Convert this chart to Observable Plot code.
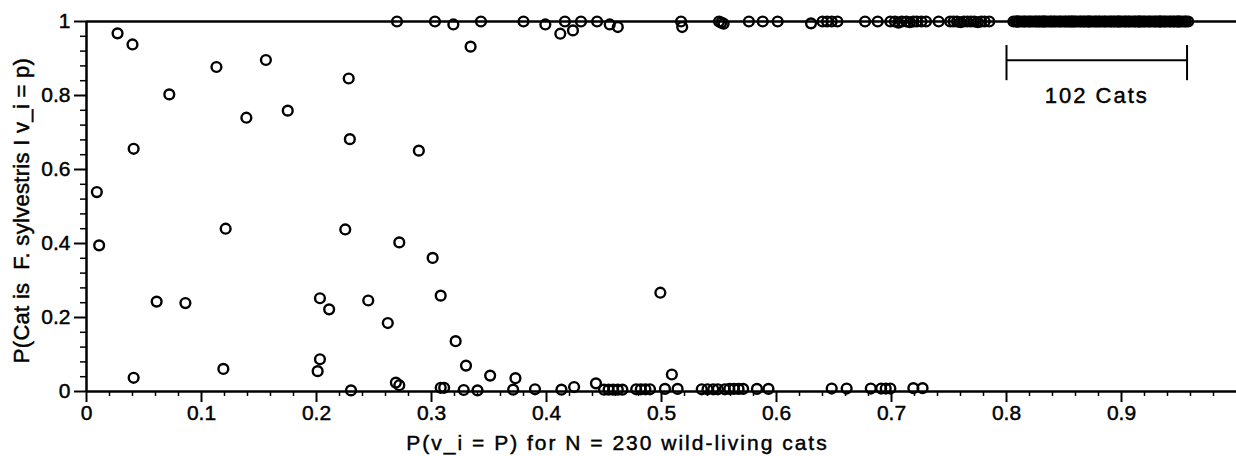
<!DOCTYPE html>
<html>
<head>
<meta charset="utf-8">
<script src="https://cdn.jsdelivr.net/npm/d3@7"></script>
<script src="https://cdn.jsdelivr.net/npm/@observablehq/plot@0.6"></script>
<style>
  html, body { margin: 0; padding: 0; background: white; }
  #chart svg text { stroke: black; stroke-width: 0.45px; }
</style>
</head>
<body>
<div id="chart"></div>
<script>
// ---- Data ----
// Cats scattered between the two extremes
const midX = [0.009, 0.011, 0.027, 0.040, 0.041, 0.041, 0.061, 0.072, 0.086, 0.113,
              0.119, 0.121, 0.139, 0.156, 0.175, 0.201, 0.203, 0.203, 0.211, 0.225,
              0.228, 0.229, 0.245, 0.262, 0.272, 0.289, 0.301, 0.308, 0.321, 0.330,
              0.351, 0.373, 0.499, 0.509];
const midY = [0.539, 0.395, 0.968, 0.938, 0.656, 0.037, 0.243, 0.803, 0.239, 0.877,
              0.061, 0.440, 0.740, 0.896, 0.759, 0.055, 0.087, 0.252, 0.222, 0.438,
              0.846, 0.682, 0.246, 0.185, 0.403, 0.651, 0.361, 0.259, 0.136, 0.070,
              0.043, 0.036, 0.267, 0.046];

// Cats near P = 0
const lowX = [0.230, 0.269, 0.272, 0.308, 0.311, 0.328, 0.340, 0.371, 0.390, 0.413,
              0.424, 0.443, 0.450, 0.454, 0.458, 0.462, 0.466, 0.478, 0.482, 0.486,
              0.490, 0.503, 0.514, 0.535, 0.540, 0.545, 0.549, 0.555, 0.559, 0.563,
              0.567, 0.571, 0.583, 0.593, 0.648, 0.661, 0.682, 0.691, 0.695, 0.699,
              0.719, 0.727];
const lowY = [0.003, 0.024, 0.017, 0.010, 0.010, 0.004, 0.003, 0.005, 0.006, 0.005,
              0.012, 0.022, 0.005, 0.005, 0.005, 0.005, 0.005, 0.006, 0.006, 0.006,
              0.006, 0.007, 0.007, 0.006, 0.006, 0.006, 0.006, 0.006, 0.007, 0.007,
              0.007, 0.007, 0.007, 0.007, 0.008, 0.008, 0.008, 0.008, 0.008, 0.008,
              0.009, 0.009];

// Cats near P = 1 (below 0.8)
const highX = [0.270, 0.303, 0.319, 0.334, 0.343, 0.380, 0.399, 0.412, 0.416, 0.423,
               0.430, 0.444, 0.455, 0.462, 0.517, 0.518, 0.550, 0.552, 0.554, 0.576,
               0.588, 0.601, 0.630, 0.640, 0.644, 0.648, 0.653, 0.677, 0.688,
               0.699, 0.703, 0.706, 0.709, 0.713, 0.716, 0.719, 0.722, 0.726, 0.730,
               0.741,
               0.751, 0.754, 0.757, 0.760, 0.763, 0.766, 0.769, 0.772, 0.775, 0.778,
               0.781, 0.785];
const highY = [1.000, 1.000, 0.992, 0.932, 1.000, 1.000, 0.992, 0.967, 1.000, 0.976,
               1.000, 1.000, 0.992, 0.985, 1.000, 0.985, 1.000, 0.997, 0.994, 1.000,
               1.000, 1.000, 0.995, 1.000, 1.000, 1.000, 1.000, 1.000, 1.000,
               1.000, 1.000, 0.997, 1.000, 1.000, 0.998, 1.000, 1.000, 1.000, 1.000,
               1.000,
               1.000, 1.000, 1.000, 0.998, 1.000, 1.000, 1.000, 1.000, 0.998, 1.000,
               1.000, 1.000];

// The 102 cats between 0.8 and ~0.96, all at P = 1
const topX = [0.806, 0.808, 0.810, 0.811, 0.813, 0.815, 0.816, 0.818, 0.820, 0.821,
              0.823, 0.825, 0.826, 0.828, 0.829, 0.831, 0.833, 0.834, 0.836, 0.838,
              0.839, 0.841, 0.842, 0.844, 0.846, 0.847, 0.849, 0.851, 0.852, 0.854,
              0.855, 0.857, 0.859, 0.860, 0.862, 0.864, 0.865, 0.867, 0.868, 0.870,
              0.872, 0.873, 0.875, 0.877, 0.878, 0.880, 0.881, 0.883, 0.885, 0.886,
              0.888, 0.890, 0.891, 0.893, 0.894, 0.896, 0.898, 0.899, 0.901, 0.903,
              0.904, 0.906, 0.907, 0.909, 0.911, 0.912, 0.914, 0.916, 0.917, 0.919,
              0.920, 0.922, 0.924, 0.925, 0.927, 0.929, 0.930, 0.932, 0.933, 0.935,
              0.937, 0.938, 0.940, 0.942, 0.943, 0.945, 0.946, 0.948, 0.950, 0.951,
              0.953, 0.955, 0.956, 0.958, 0.809, 0.832, 0.857, 0.871, 0.897, 0.915,
              0.934, 0.949];
const topY = 1.0;

// Annotation
const bracketX = [0.8, 0.957];
const bracketY = 0.895;
const bracketEnds = [0.84, 0.935];
const bracketLabel = "102 Cats";
const bracketLabelY = 0.8;

// Axes
const xTicks = [0, 0.1, 0.2, 0.3, 0.4, 0.5, 0.6, 0.7, 0.8, 0.9];
const xTickLabels = ["0", "0.1", "0.2", "0.3", "0.4", "0.5", "0.6", "0.7", "0.8", "0.9"];
const yTicks = [0, 0.2, 0.4, 0.6, 0.8, 1];
const yTickLabels = ["0", "0.2", "0.4", "0.6", "0.8", "1"];
const xTitle = "P(v_i = P) for N = 230 wild-living cats";
const yTitle = "P(Cat is  F. sylvestris I v_i = p)";

// ---- Build ----
const points = [
  ...midX.map((x, i) => ({x, y: midY[i]})),
  ...lowX.map((x, i) => ({x, y: lowY[i]})),
  ...highX.map((x, i) => ({x, y: highY[i]})),
  ...topX.map(x => ({x, y: topY}))
];

const xMinor = d3.range(1, 50).map(i => i * 0.02).filter(v => Math.abs(v * 10 - Math.round(v * 10)) > 1e-6);
const yMinor = d3.range(1, 25).map(i => i * 0.04).filter(v => Math.abs(v * 5 - Math.round(v * 5)) > 1e-6);
const xLab = new Map(xTicks.map((t, i) => [t, xTickLabels[i]]));
const yLab = new Map(yTicks.map((t, i) => [t, yTickLabels[i]]));

const chart = Plot.plot({
  width: 1236,
  height: 456,
  marginLeft: 86,
  marginRight: 0,
  marginTop: 21,
  marginBottom: 65,
  x: {domain: [0, 1]},
  y: {domain: [0, 1]},
  style: {
    fontFamily: "'Liberation Sans', Arial, Helvetica, sans-serif",
    fontSize: "21px",
    background: "white",
    color: "black",
    overflow: "visible"
  },
  marks: [
    Plot.axisX(xMinor, {tickSize: 5, text: null, label: null, strokeWidth: 1.5}),
    Plot.axisX(xTicks, {tickSize: 11, tickPadding: 3, tickFormat: d => xLab.get(d), label: null, strokeWidth: 2, fontSize: 21}),
    Plot.axisY(yMinor, {tickSize: 6, text: null, label: null, strokeWidth: 1.5}),
    Plot.axisY(yTicks, {tickSize: 12, tickPadding: 4, tickFormat: d => yLab.get(d), label: null, strokeWidth: 2, fontSize: 21}),
    Plot.ruleY([0, 1], {x1: 0, x2: 1, strokeWidth: 2.5}),
    Plot.ruleX([0], {y1: 0, y2: 1, strokeWidth: 2.5}),
    Plot.dot(points, {x: "x", y: "y", r: 4.9, stroke: "black", strokeWidth: 2.4, fill: "none"}),
    Plot.ruleY([bracketY], {x1: bracketX[0], x2: bracketX[1], strokeWidth: 2}),
    Plot.ruleX(bracketX, {y1: bracketEnds[0], y2: bracketEnds[1], strokeWidth: 2}),
    Plot.text([bracketLabel], {x: (bracketX[0] + bracketX[1]) / 2, y: bracketLabelY, text: d => d, fontSize: 22, textAnchor: "middle", lineAnchor: "middle"}),
    Plot.text([xTitle], {frameAnchor: "bottom", text: d => d, dy: 52, dx: -44, fontSize: 21, textAnchor: "middle", lineAnchor: "middle"}),
    Plot.text([yTitle], {frameAnchor: "left", text: d => d, rotate: -90, dx: -65, dy: 4, fontSize: 22, textAnchor: "middle", lineAnchor: "middle"})
  ]
});

// letter spacing to match the wide lettering of the reference
d3.select(chart).selectAll("text").each(function() {
  const t = this.textContent;
  if (t === bracketLabel) this.style.letterSpacing = "2px";
  else if (t === xTitle) this.style.letterSpacing = "2px";
  else if (t.replace(/\s+/g, " ") === yTitle.replace(/\s+/g, " ")) { this.style.letterSpacing = "0.3px"; this.style.whiteSpace = "pre"; }
});
document.getElementById("chart").appendChild(chart);
</script>
</body>
</html>
